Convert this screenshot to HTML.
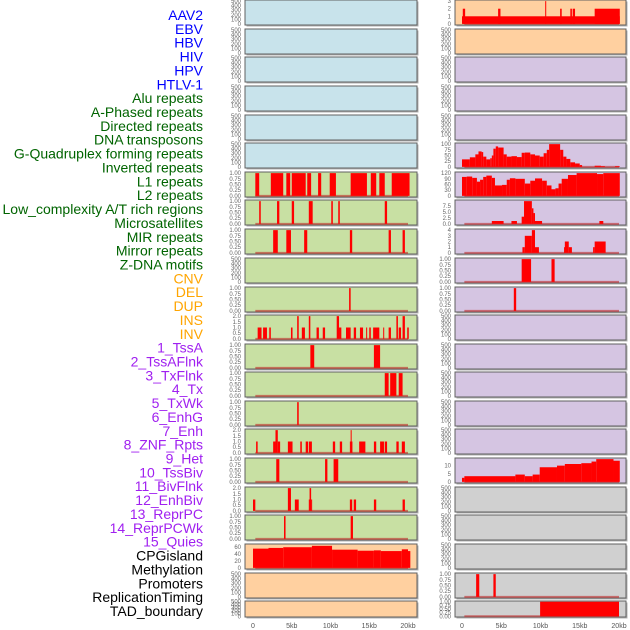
<!DOCTYPE html>
<html><head><meta charset="utf-8"><style>
body{margin:0;background:#fff;}
svg{display:block;font-family:"Liberation Sans",sans-serif;}
</style></head><body>
<svg id="chart" width="630" height="630" viewBox="0 0 630 630" xmlns="http://www.w3.org/2000/svg"></svg>
<script>
// ---------- data ----------
const trackLabels = ["AAV2","EBV","HBV","HIV","HPV","HTLV-1","Alu repeats","A-Phased repeats","Directed repeats","DNA transposons","G-Quadruplex forming repeats","Inverted repeats","L1 repeats","L2 repeats","Low_complexity A/T rich regions","Microsatellites","MIR repeats","Mirror repeats","Z-DNA motifs","CNV","DEL","DUP","INS","INV","1_TssA","2_TssAFlnk","3_TxFlnk","4_Tx","5_TxWk","6_EnhG","7_Enh","8_ZNF_Rpts","9_Het","10_TssBiv","11_BivFlnk","12_EnhBiv","13_ReprPC","14_ReprPCWk","15_Quies","CPGisland","Methylation","Promoters","ReplicationTiming","TAD_boundary"];
const labelGroups = [6,13,5,15,5];
const groupColors = ["#0000ff","#006400","#ffa500","#a020f0","#000000"];

const xTicks = [0,5,10,15,20];
const xTickLabels = ["0","5kb","10kb","15kb","20kb"];

// left column segments [startKb, endKb, value]
const leftL1 = [[0.3,0.8,1],[2.3,3.9,1],[4.3,4.8,1],[5.0,6.8,1],[7.0,7.5,1],[8.4,8.8,1],[9.9,10.7,1],[12.6,14.7,1],[15.2,15.9,1],[16.3,17.0,1],[17.9,20.2,1]];
const leftR2 = [[0.8,1.0,1],[3.1,3.4,1],[5.0,5.3,1],[7.2,7.7,1],[10.1,10.3,1],[11.0,11.2,1],[17.0,17.3,1]];
const leftR3 = [[2.6,3.2,1],[4.3,4.9,1],[6.6,7.0,1],[12.5,12.8,1],[17.5,17.8,1],[19.3,19.6,1]];
const leftR5 = [[12.4,12.6,1]];
const leftR6 = [[0.6,1.1,1],[1.3,1.8,1],[2.1,2.3,1],[4.9,5.1,1],[5.7,5.9,2],[6.3,6.7,1],[7.2,7.4,2],[8.2,8.5,1],[9.0,9.3,1],[10.8,11.1,2],[11.1,11.4,1],[12.0,12.6,1],[13.0,13.3,1],[13.8,14.2,1],[14.6,14.7,1],[15.0,15.2,1],[15.5,16.3,1],[16.8,16.9,1],[17.5,17.8,1],[18.5,18.7,2],[18.8,19.1,1],[19.3,19.6,2],[19.9,20.1,1]];
const leftR7 = [[7.4,7.9,1],[15.6,16.4,1]];
const leftR8 = [[17.0,17.5,1],[17.7,18.5,1],[18.8,19.3,1]];
const leftR9 = [[5.7,5.9,1]];
const leftR10 = [[0.4,0.6,1],[2.6,2.9,1],[2.9,3.2,2],[3.2,3.5,1],[4.5,5.1,1],[6.1,6.3,1],[6.8,7.1,1],[7.2,7.6,1],[10.3,10.6,1],[11.2,11.5,1],[12.5,12.6,1],[12.6,12.7,2],[12.7,12.8,1],[13.7,14.5,1],[15.6,15.9,1],[16.4,16.9,1],[17.0,17.3,1],[18.5,18.8,1],[19.2,19.6,1]];
const leftR11 = [[3.0,3.4,1],[9.3,9.6,1],[10.4,11.0,1]];
const leftR12 = [[0.0,0.3,1],[4.5,4.9,2],[5.4,5.9,1],[7.2,7.3,1],[7.3,7.5,2],[7.5,7.6,1],[12.5,12.8,1],[13.0,13.3,1],[15.6,15.9,1],[19.3,19.6,1]];
const leftR13 = [[4.0,4.2,1],[12.6,12.9,1]];
const cpgSegments = [[0,2,55],[2,3.9,57],[3.9,7.6,59],[7.6,10.2,63],[10.2,13.5,52],[13.5,15.6,49],[15.6,16.5,50],[16.5,19.2,48],[19.2,20,53],[20,20.3,48]];

// right column
const aav2Segments = [[0,20.1,1],[0.1,0.4,2],[4.6,4.9,2],[10.6,10.7,3],[12.5,12.7,2],[13.8,14.0,2],[14.1,14.4,2],[16.9,20.1,2]];
const gquadSegments = [[0,1.0,33],[1.0,1.7,42],[1.7,2.1,55],[2.1,2.5,68],[2.5,2.7,65],[2.7,3.1,45],[3.1,3.6,33],[3.6,3.8,38],[3.8,4.0,50],[4.0,4.3,80],[4.3,4.6,90],[4.6,5.3,85],[5.3,5.7,55],[5.7,6.3,45],[6.3,7.0,47],[7.0,7.6,43],[7.6,8.0,62],[8.0,8.7,63],[8.7,9.3,55],[9.3,9.9,50],[9.9,10.4,45],[10.4,10.8,60],[10.8,11.1,75],[11.1,12.5,100],[12.5,12.9,75],[12.9,13.3,45],[13.3,13.8,35],[13.8,14.4,20],[14.4,15.0,15],[15.0,15.3,8],[16.9,17.7,5],[17.7,18.2,3],[19.5,20.1,3]];
const invertedSegments = [[0,0.6,100],[0.6,1.3,102],[1.3,1.9,95],[1.9,2.3,75],[2.3,2.7,85],[2.7,3.1,100],[3.1,3.8,107],[3.8,4.2,95],[4.2,5.1,55],[5.1,5.7,58],[5.7,6.1,85],[6.1,6.8,93],[6.8,8.0,90],[8.0,8.7,65],[8.7,9.3,80],[9.3,10.2,92],[10.2,10.8,80],[10.8,11.4,55],[11.4,11.9,35],[11.9,12.3,40],[12.3,12.7,65],[12.7,13.5,90],[13.5,14.6,110],[14.6,17.2,120],[17.2,18.0,115],[18.0,20.1,120]];
const lowCompSegments = [[3.8,5.3,1.2],[6.3,7.0,1.2],[7.6,7.9,3],[7.9,8.9,9.5],[8.9,9.1,6.5],[9.1,9.3,4.5],[9.3,10.2,1.2],[17.5,18.0,1.2]];
const microSegments = [[7.7,8.0,1],[8.0,8.9,3],[8.9,9.3,4],[9.3,9.8,1],[13.0,13.1,1],[13.1,13.6,2],[13.6,14.0,1],[16.7,16.9,1],[16.9,18.3,2]];
const mirSegments = [[7.6,8.8,1],[11.4,11.8,1]];
const mirrorSegments = [[6.6,6.9,1]];
const het9Segments = [[0,0.3,2.5],[0.3,6.8,3.5],[6.8,8.0,4.5],[8.0,9.0,3.5],[9.0,9.9,4.5],[9.9,12.1,9],[12.1,13.1,10],[13.1,15.2,11],[15.2,16.5,11.5],[16.5,17.1,12.5],[17.1,19.3,14],[19.3,20.1,13]];
const promoterSegments = [[1.8,2.2,1],[4.0,4.3,1]];
const tadSegments = [[9.95,20.0,1]];

const ticksEmpty = [0,100,200,300,400,500];
const ticksUnit = [0,0.25,0.5,0.75,1];
const ticksUnitLabels = ["0.00","0.25","0.50","0.75","1.00"];
const ticksTwo = [0,0.5,1,1.5,2];
const ticksTwoLabels = ["0.0","0.5","1.0","1.5","2.0"];

// ---------- layout ----------
const rowTops = [0,29,57,86,115,143,172,200,229,258,287,315,344,372,401,429,458,487,515,544,573,601];
const cols = [{left:245,right:417,x0:253,x20:408},{left:455,right:626,x0:462,x20:619}];
const C = {blue:"#c8e3eb",green:"#c8e0a3",orange:"#ffd0a0",purple:"#d5c5e2",grey:"#d0d0d0"};

function P(bg,segs,ymax,ticks,labels,name){return {bg,segs,ymax,ticks,labels:labels||ticks.map(String),name};}
const E = n=>P(null,null,500,ticksEmpty,null,n);
const leftPanels = [
 P(C.blue,null,500,ticksEmpty,null,"aav2-left"),P(C.blue,null,500,ticksEmpty,null,"ebv-left"),P(C.blue,null,500,ticksEmpty,null,"hbv-left"),
 P(C.blue,null,500,ticksEmpty,null,"hiv-left"),P(C.blue,null,500,ticksEmpty,null,"hpv-left"),P(C.blue,null,500,ticksEmpty,null,"htlv-left"),
 P(C.green,leftL1,1,ticksUnit,ticksUnitLabels,"track-l7"),P(C.green,leftR2,1,ticksUnit,ticksUnitLabels,"track-l8"),
 P(C.green,leftR3,1,ticksUnit,ticksUnitLabels,"track-l9"),P(C.green,null,500,ticksEmpty,null,"track-l10"),
 P(C.green,leftR5,1,ticksUnit,ticksUnitLabels,"track-l11"),P(C.green,leftR6,2,ticksTwo,ticksTwoLabels,"track-l12"),
 P(C.green,leftR7,1,ticksUnit,ticksUnitLabels,"track-l13"),P(C.green,leftR8,1,ticksUnit,ticksUnitLabels,"track-l14"),
 P(C.green,leftR9,1,ticksUnit,ticksUnitLabels,"track-l15"),P(C.green,leftR10,2,ticksTwo,ticksTwoLabels,"track-l16"),
 P(C.green,leftR11,1,ticksUnit,ticksUnitLabels,"track-l17"),P(C.green,leftR12,2,ticksTwo,ticksTwoLabels,"track-l18"),
 P(C.green,leftR13,1,ticksUnit,ticksUnitLabels,"track-l19"),P(C.orange,cpgSegments,65,[0,20,40,60],null,"cpg-track"),
 P(C.orange,null,500,ticksEmpty,null,"track-l21"),P(C.orange,null,500,ticksEmpty,null,"track-l22")];
const rightPanels = [
 P(C.orange,aav2Segments,3,[0,1,2,3],null,"aav2-right"),P(C.orange,null,500,ticksEmpty,null,"track-r2"),
 P(C.purple,null,500,ticksEmpty,null,"track-r3"),P(C.purple,null,500,ticksEmpty,null,"track-r4"),P(C.purple,null,500,ticksEmpty,null,"track-r5"),
 P(C.purple,gquadSegments,100,[0,25,50,75,100],null,"gquad-right"),P(C.purple,invertedSegments,120,[0,30,60,90,120],null,"inverted-right"),
 P(C.purple,lowCompSegments,9.5,[0,2.5,5,7.5],["0.0","2.5","5.0","7.5"],"lowcomp-right"),P(C.purple,microSegments,4,[0,1,2,3,4],null,"micro-right"),
 P(C.purple,mirSegments,1,ticksUnit,ticksUnitLabels,"mir-right"),P(C.purple,mirrorSegments,1,ticksUnit,ticksUnitLabels,"mirror-right"),
 P(C.purple,null,500,ticksEmpty,null,"track-r12"),P(C.purple,null,500,ticksEmpty,null,"track-r13"),P(C.purple,null,500,ticksEmpty,null,"track-r14"),
 P(C.purple,null,500,ticksEmpty,null,"track-r15"),P(C.purple,null,500,ticksEmpty,null,"track-r16"),
 P(C.purple,het9Segments,14,[0,5,10],null,"het-right"),P(C.grey,null,500,ticksEmpty,null,"track-r18"),
 P(C.grey,null,500,ticksEmpty,null,"track-r19"),P(C.grey,null,500,ticksEmpty,null,"track-r20"),
 P(C.grey,promoterSegments,1,ticksUnit,ticksUnitLabels,"promoters-right"),P(C.grey,tadSegments,1,ticksUnit,ticksUnitLabels,"tad-right")];

// ---------- drawing ----------
const svg = document.getElementById("chart");
const NS = "http://www.w3.org/2000/svg";
function mk(tag, attrs, parent){const e=document.createElementNS(NS,tag);for(const k in attrs)e.setAttribute(k,attrs[k]);(parent||svg).appendChild(e);return e;}

// labels
let li=0;
labelGroups.forEach((n,g)=>{for(let k=0;k<n;k++){
  const t=mk("text",{x:203,y:15+li*13.86+5,"text-anchor":"end","font-size":"14",fill:groupColors[g]});
  t.textContent=trackLabels[li];
  
  
  li++;}});

function drawPanel(p, col, row){
  const top=rowTops[row], h=(row===rowTops.length-1)?16:25, bot=top+h;
  const xs=kb=>col.x0+kb*(col.x20-col.x0)/20;
  const ys=v=>bot-0.045*h-v/p.ymax*(0.91*h);
  const g=mk("g",{});
  
  
  mk("rect",{x:col.left+1.5,y:top+1.5,width:col.right-col.left,height:h,fill:"#b0b0b0"},g);
  mk("rect",{x:col.left,y:top,width:col.right-col.left,height:h,fill:p.bg,stroke:"#606060","stroke-width":1},g);
  if(p.segs){
    mk("line",{x1:xs(0.3),x2:xs(20),y1:ys(0),y2:ys(0),stroke:"rgba(190,40,40,0.6)","stroke-width":2},g);
    p.segs.forEach(s=>{
      const r=mk("rect",{x:xs(s[0]),y:ys(s[2]),width:Math.max(1,xs(s[1])-xs(s[0])),height:ys(0)-ys(s[2]),fill:"#ff0000"},g);
      
      
    });
  }
  p.ticks.forEach((tv,i)=>{
    const t=mk("text",{x:col.left-4,y:ys(tv)+2,"text-anchor":"end","font-size":"6",fill:"#666"},g);
    t.textContent=p.labels[i];
  });
}
leftPanels.forEach((p,i)=>drawPanel(p,cols[0],i));
rightPanels.forEach((p,i)=>drawPanel(p,cols[1],i));

cols.forEach((col,ci)=>{
  const xs=kb=>col.x0+kb*(col.x20-col.x0)/20;
  xTicks.forEach((v,i)=>{
    const t=mk("text",{x:xs(v),y:628,"text-anchor":"middle","font-size":"7",fill:"#555"});
    t.textContent=xTickLabels[i];
    
    
  });
});
</script>
</body></html>
